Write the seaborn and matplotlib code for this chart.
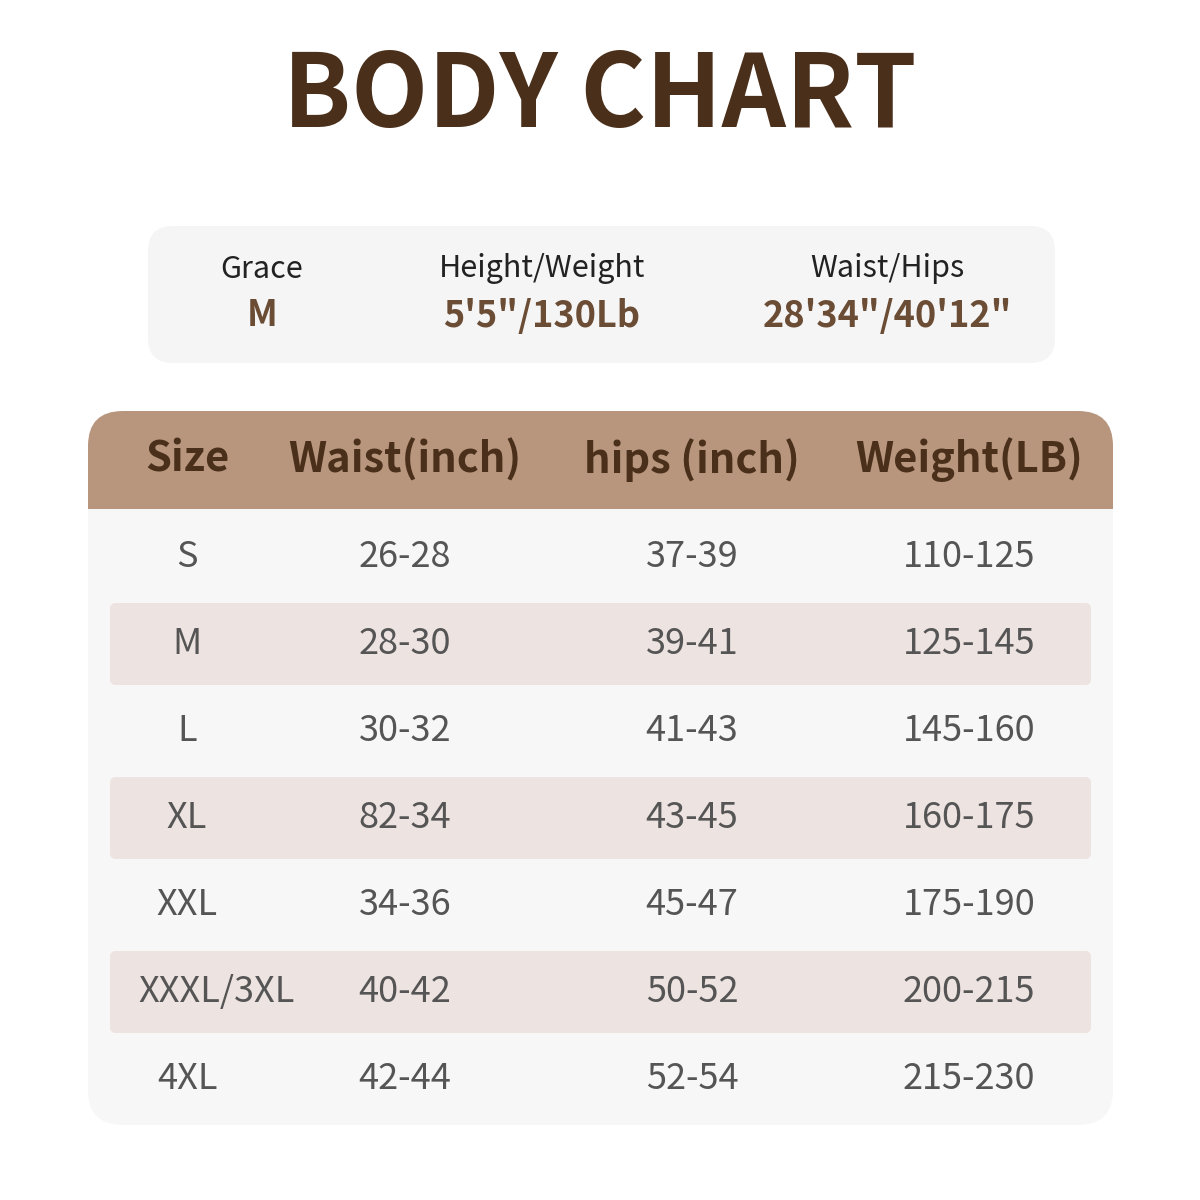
import matplotlib
matplotlib.use("Agg")
import matplotlib.pyplot as plt
import seaborn as sns
from matplotlib.patches import FancyBboxPatch, Rectangle

sns.set_theme(style="white")
plt.rcParams['font.family'] = ['Noto Sans CJK SC', 'DejaVu Sans']

title = "BODY CHART"
model_labels = ["Grace", "Height/Weight", "Waist/Hips"]
model_values = ["M", "5'5\"/130Lb", "28'34\"/40'12\""]
headers = ["Size", "Waist(inch)", "hips (inch)", "Weight(LB)"]
sizes = ["S", "M", "L", "XL", "XXL", "XXXL/3XL", "4XL"]
waist = ["26-28", "28-30", "30-32", "82-34", "34-36", "40-42", "42-44"]
hips = ["37-39", "39-41", "41-43", "43-45", "45-47", "50-52", "52-54"]
weight = ["110-125", "125-145", "145-160", "160-175", "175-190", "200-215", "215-230"]

dark = "#4a2f1a"
mid = "#6b4c35"
gray = "#555555"

fig = plt.figure(figsize=(12, 12), dpi=100)
ax = fig.add_axes([0, 0, 1, 1])
ax.set_xlim(0, 1200); ax.set_ylim(1200, 0); ax.axis("off")
fig.patch.set_facecolor("white")

ax.text(600, 97, title, ha="center", va="center", fontsize=72, fontweight="bold", color=dark)

ax.add_patch(FancyBboxPatch((148, 226), 907, 137, boxstyle="round,pad=0,rounding_size=25",
                            fc="#f5f5f5", ec="none"))
mx = [262, 542, 887]
for x, l, v in zip(mx, model_labels, model_values):
    ax.text(x, 269, l, ha="center", va="center", fontsize=22, color="#222222")
    ax.text(x, 316, v, ha="center", va="center", fontsize=26, fontweight="bold", color=mid)

ax.add_patch(FancyBboxPatch((88, 411), 1025, 714, boxstyle="round,pad=0,rounding_size=35",
                            fc="#f7f7f7", ec="none"))
ax.add_patch(FancyBboxPatch((88, 411), 1025, 98, boxstyle="round,pad=0,rounding_size=35",
                            fc="#b8967e", ec="none"))
ax.add_patch(Rectangle((88, 470), 1025, 39, fc="#b8967e", ec="none"))

cx = [187, 405, 692, 969]
for x, h in zip(cx, headers):
    ax.text(x, 460, h, ha="center", va="center", fontsize=30, fontweight="bold", color=dark)

row_y0, dy = 557, 87
for i, row in enumerate(zip(sizes, waist, hips, weight)):
    y = row_y0 + i * dy
    if i % 2 == 1:
        ax.add_patch(FancyBboxPatch((110, y - 41), 981, 82, boxstyle="round,pad=0,rounding_size=6",
                                    fc="#ede3e0", ec="none"))
    for j, (x, t) in enumerate(zip(cx, row)):
        xx = 217 if (j == 0 and len(t) > 4) else x
        ax.text(xx, y, t, ha="center", va="center", fontsize=26, color=gray)

fig.savefig("out.png", dpi=100)
